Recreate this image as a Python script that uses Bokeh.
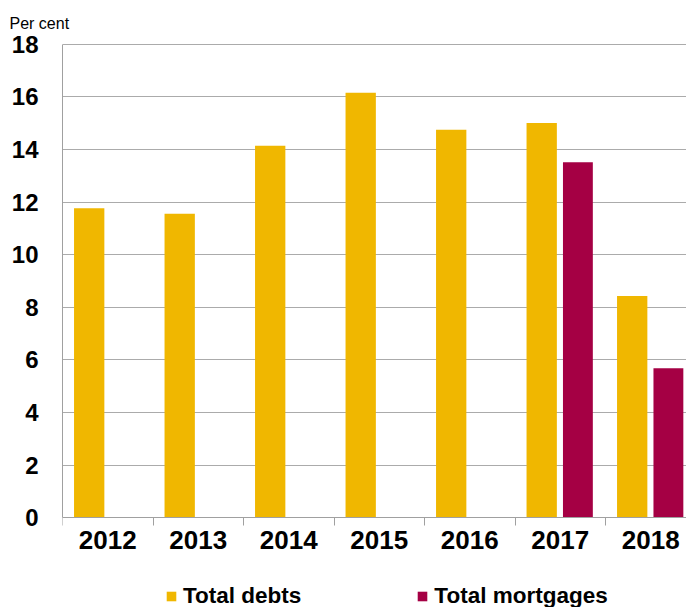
from bokeh.plotting import figure
from bokeh.models import (ColumnDataSource, Range1d, FixedTicker, Legend, LegendItem, Title, LinearAxis)
from bokeh.embed import file_html
from bokeh.resources import INLINE

years = ["2012", "2013", "2014", "2015", "2016", "2017", "2018"]
total_debts = [11.76, 11.55, 14.14, 16.15, 14.74, 15.0, 8.43]
total_mortgages = [None, None, None, None, None, 13.51, 5.69]
y_ticks = [0, 2, 4, 6, 8, 10, 12, 14, 16, 18]

DEBT_COLOR = "#F0B700"
MORT_COLOR = "#A50044"
FONT = "Liberation Sans"

idx = list(range(len(years)))
debt_src = ColumnDataSource(dict(x=[i + 0.295 for i in idx], top=total_debts))
m_idx = [i for i, v in zip(idx, total_mortgages) if v is not None]
mort_src = ColumnDataSource(dict(x=[i + 0.695 for i in m_idx],
                                 top=[total_mortgages[i] for i in m_idx]))

p = figure(width=686, height=607, output_backend="svg", toolbar_location=None,
           x_axis_location=None,
           x_range=Range1d(0, 6.895), y_range=Range1d(-3.40, 18.02))
p.min_border_left = 62
p.min_border_right = 0
p.min_border_top = 43
p.min_border_bottom = 0
p.outline_line_color = None
p.background_fill_color = "white"
p.border_fill_color = "white"

p.title = Title(text="Per cent", align="left", offset=-53, text_font=FONT,
                text_font_style="normal", text_font_size="16px", text_color="black",
                standoff=24)

r1 = p.vbar(x="x", top="top", width=0.335, source=debt_src, color=DEBT_COLOR, line_color=None)
r2 = p.vbar(x="x", top="top", width=0.33, source=mort_src, color=MORT_COLOR, line_color=None)

# x axis, pinned at y = 0
xaxis = LinearAxis(fixed_location=0)
xaxis.ticker = FixedTicker(ticks=[i + 0.5 for i in idx], minor_ticks=list(range(len(years) + 1)))
xaxis.major_label_overrides = {i + 0.5: y for i, y in zip(idx, years)}
xaxis.major_tick_line_color = None
xaxis.major_tick_out = 0
xaxis.major_tick_in = 0
xaxis.minor_tick_line_color = "#A0A0A0"
xaxis.minor_tick_out = 8
xaxis.minor_tick_in = 0
xaxis.axis_line_color = "#A0A0A0"
xaxis.major_label_text_font = FONT
xaxis.major_label_text_font_style = "bold"
xaxis.major_label_text_font_size = "26px"
xaxis.major_label_text_color = "black"
xaxis.major_label_standoff = 5
p.add_layout(xaxis, "below")
p.xgrid.grid_line_color = None

# y axis
p.yaxis.ticker = FixedTicker(ticks=y_ticks)
p.yaxis.bounds = (0, 18)
p.yaxis.major_tick_line_color = None
p.yaxis.major_tick_out = 0
p.yaxis.major_tick_in = 0
p.yaxis.minor_tick_line_color = None
p.yaxis.axis_line_color = "#A0A0A0"
p.yaxis.major_label_text_font = FONT
p.yaxis.major_label_text_font_style = "bold"
p.yaxis.major_label_text_font_size = "24px"
p.yaxis.major_label_text_color = "black"
p.yaxis.major_label_standoff = 24
p.ygrid.grid_line_color = "#ABABAB"
p.ygrid.grid_line_width = 1

legend = Legend(items=[LegendItem(label="Total debts", renderers=[r1]),
                       LegendItem(label="Total mortgages", renderers=[r2])],
                orientation="horizontal", location=(103, -2),
                glyph_width=12, glyph_height=12, label_standoff=6, spacing=115,
                padding=0, margin=0, border_line_color=None, background_fill_alpha=0,
                label_text_font=FONT, label_text_font_style="bold",
                label_text_font_size="22.5px", label_text_color="black")
p.add_layout(legend, "center")

open("out.html", "w").write(file_html(p, INLINE))
